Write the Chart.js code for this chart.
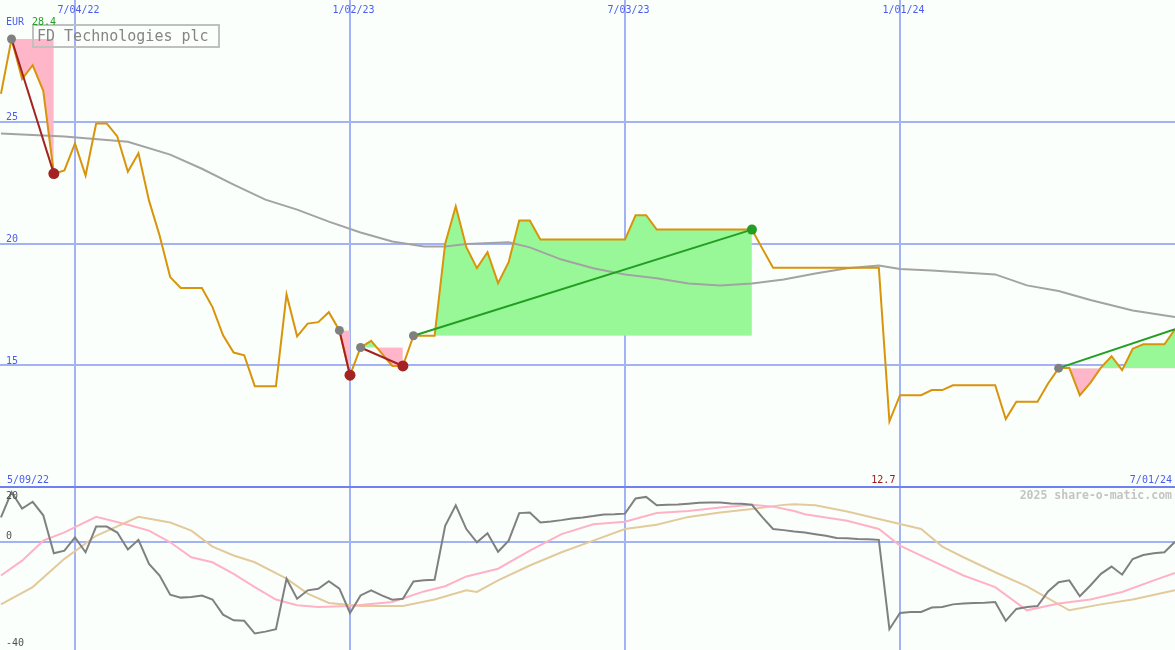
<!DOCTYPE html>
<html><head><meta charset="utf-8">
<script src="https://cdn.jsdelivr.net/npm/chart.js@4"></script>
<style>
html,body{margin:0;padding:0;background:#fbfffb;}
#wrap{position:relative;width:1175px;height:650px;overflow:hidden;background:#fbfffb;}
canvas{position:absolute;left:0;}
.lbl{position:absolute;font-family:"DejaVu Sans Mono",monospace;white-space:nowrap;}
#title{position:absolute;left:32px;top:24px;width:181px;height:17px;padding:3px 0 0 3px;border:2px solid #c0c0c0;
  font-family:"DejaVu Sans Mono",monospace;font-size:15px;line-height:15px;color:#858585;white-space:nowrap;}
</style></head><body>
<div id="wrap">
<canvas id="c1" width="1175" height="487" style="top:0"></canvas>
<canvas id="c2" width="1175" height="162" style="top:488px"></canvas>
<div id="sep" style="position:absolute;left:0;top:486px;width:1175px;height:2px;background:#7080f0"></div>
<div id="title">FD Technologies plc</div>
</div>
<script>
// ---------- data (weekly index 0..111) ----------
const price = [
26.15, 28.4, 26.75, 27.32, 26.27, 22.87, 23.0, 24.11, 22.79, 24.93,
24.93, 24.40, 22.95, 23.71, 21.76, 20.33, 18.62, 18.17, 18.17, 18.17,
17.39, 16.23, 15.52, 15.41, 14.14, 14.14, 14.14, 17.91, 16.19, 16.71,
16.77, 17.18, 16.43, 14.59, 15.73, 16.0, 15.49, 14.97, 14.97, 16.21,
16.21, 16.21, 19.99, 21.53, 19.85, 18.99, 19.64, 18.37, 19.23, 20.94,
20.94, 20.16, 20.16, 20.16, 20.16, 20.16, 20.16, 20.16, 20.16, 20.16,
21.16, 21.16, 20.57, 20.57, 20.57, 20.57, 20.57, 20.57, 20.57, 20.57,
20.57, 20.57, 19.78, 19.0, 19.0, 19.0, 19.0, 19.0, 19.0, 19.0,
19.0, 19.0, 19.0, 19.0, 12.7, 13.77, 13.77, 13.77, 13.98, 13.98,
14.18, 14.18, 14.18, 14.18, 14.18, 12.79, 13.5, 13.5, 13.5, 14.25,
14.88, 14.9, 13.77, 14.28, 14.9, 15.37, 14.8, 15.68, 15.86, 15.86,
15.86, 16.48
];
const maIdx = [0,6,12,16,19,22,25,28,31,34,37,40,42,44,48,50,53,56,59,62,65,68,71,74,77,80,83,85,88,94,97,100,103,107,111];
const maVal = [24.52,24.39,24.18,23.65,23.07,22.42,21.80,21.39,20.90,20.45,20.08,19.88,19.88,19.98,20.05,19.84,19.34,18.98,18.73,18.57,18.36,18.28,18.36,18.52,18.77,18.98,19.10,18.95,18.89,18.73,18.28,18.05,17.68,17.25,16.98];

const osc = [
9.1, 18.5, 12.4, 14.9, 9.9, -4.2, -3.2, 1.7, -3.8, 5.7,
5.7, 3.5, -2.8, 0.8, -8.1, -12.4, -19.5, -20.6, -20.4, -19.8,
-21.3, -26.9, -29.0, -29.2, -33.9, -33.2, -32.3, -13.6, -21.0, -17.9,
-17.3, -14.5, -17.3, -26.3, -19.8, -17.9, -19.8, -21.4, -21.0, -14.6,
-14.2, -14.0, 6.0, 13.6, 4.8, -0.1, 3.2, -3.6, 0.5, 10.7,
10.9, 7.2, 7.6, 8.1, 8.7, 9.1, 9.6, 10.2, 10.3, 10.5,
16.1, 16.7, 13.6, 13.8, 13.9, 14.2, 14.5, 14.6, 14.6, 14.3,
14.2, 13.8, 9.1, 4.8, 4.4, 3.9, 3.5, 2.9, 2.3, 1.5,
1.4, 1.1, 1.0, 0.8, -32.3, -26.3, -25.9, -25.9, -24.3, -24.1,
-23.1, -22.8, -22.6, -22.5, -22.2, -29.2, -24.8, -24.1, -23.7, -18.3,
-14.9, -14.2, -20.1, -16.1, -11.8, -9.1, -12.1, -6.3, -4.8, -4.2,
-3.8, 0.1
];
const pinkIdx = [0,2,4,6,9,12,14,16,18,20,22,24,26,28,30,33,37,40,42,44,47,50,53,56,59,62,65,68,71,73,75,76,80,83,85,88,91,94,97,100,103,106,109,111];
const pinkVal = [-12.4,-6.9,0.5,3.55,9.3,6.4,4.2,-0.1,-5.65,-7.5,-11.8,-16.7,-21.3,-23.4,-24.05,-23.7,-22.2,-18.3,-16.4,-12.75,-9.9,-3.2,2.9,6.6,7.5,10.7,11.5,12.75,13.75,13.1,11.5,10.3,7.85,4.8,-1.35,-6.9,-12.4,-16.7,-25.3,-22.8,-21.3,-18.5,-14.2,-11.5];
const tanIdx = [0,3,6,9,13,16,18,20,22,24,27,29,31,34,38,41,44,45,47,50,53,56,59,62,65,68,71,74,75,77,80,83,87,89,91,94,97,101,104,107,111];
const tanVal = [-23.1,-16.7,-6.25,2.3,9.3,7.2,4.2,-1.7,-5.0,-7.5,-13.6,-19.1,-22.6,-23.7,-23.7,-21.3,-17.9,-18.5,-14.2,-8.7,-3.8,0.5,4.8,6.4,9.3,10.9,12.2,13.75,14.0,13.6,11.3,8.5,4.8,-1.7,-5.65,-11.2,-16.4,-25.3,-23.1,-21.3,-17.9];

const tradeEntry = [1, 32, 34, 39, 100];
const tradeExit  = [5, 33, 38, 71, 111];
const tradeOpen  = [false, false, false, false, true];

const xTickIdx = [7, 33, 59, 85];
const xTickLabels = ['7/04/22', '1/02/23', '7/03/23', '1/01/24'];
const priceTicks = [15, 20, 25];
const oscTicks = [20, 0, -40];
const startLabel = '5/09/22';
const endLabel = '7/01/24';
const currency = 'EUR';
const watermark = '2025 share-o-matic.com';

// ---------- styles ----------
const W = 1175;
const GRID = '#a3b1f5';
const BLUE = '#4a5cf0';
const PRICE_C = '#d8940a';
const MA_C = '#a3a3a3';
const FILL_G = '#98f898';
const FILL_P = '#ffb6c8';
const LOSS_C = '#a52222';
const GAIN_C = '#229e22';
const ENTRY_C = '#808080';

const pts = (vals, idx) => vals.map((v, k) => ({x: idx ? idx[k] : k, y: v}));

// ---------- main chart ----------
const ds = [];
ds.push({data: pts(price), borderColor: PRICE_C, borderWidth: 2, pointRadius: 0, order: 2});
ds.push({data: pts(maVal, maIdx), borderColor: MA_C, borderWidth: 2, pointRadius: 0, order: 3});
const dotData = [], dotColor = [], dotRad = [];
tradeEntry.forEach((e, t) => {
  const x = tradeExit[t];
  const gain = price[x] >= price[e];
  ds.push({
    data: price.slice(e, x + 1).map((v, k) => ({x: e + k, y: v})),
    borderColor: 'transparent', borderWidth: 0, pointRadius: 0, order: 10,
    fill: {target: {value: price[e]}, above: FILL_G, below: FILL_P}
  });
  ds.push({
    data: [{x: e, y: price[e]}, {x: x, y: price[x]}],
    borderColor: gain ? GAIN_C : LOSS_C, borderWidth: 2, pointRadius: 0, order: 1
  });
  dotData.push({x: e, y: price[e]}); dotColor.push(ENTRY_C); dotRad.push(4.5);
  if (!tradeOpen[t]) {
    dotData.push({x: x, y: price[x]}); dotColor.push(gain ? GAIN_C : LOSS_C); dotRad.push(gain ? 5 : 5.5);
  }
});
ds.push({data: dotData, showLine: false, pointRadius: dotRad, pointBackgroundColor: dotColor,
  pointBorderWidth: 0, pointBorderColor: 'transparent', order: 0});

function axisX() {
  return {type: 'linear', min: -0.09, max: 111.0,
    ticks: {display: false}, border: {display: false},
    grid: {color: GRID, lineWidth: 2, drawTicks: false},
    afterBuildTicks: s => { s.ticks = xTickIdx.map(v => ({value: v})); }};
}
function baseOpts(ymin, ymax, yt) {
  return {
    responsive: false, animation: false, devicePixelRatio: 1,
    layout: {padding: 0, autoPadding: false},
    plugins: {legend: {display: false}, tooltip: {enabled: false}},
    elements: {line: {tension: 0}},
    scales: {
      x: axisX(),
      y: {type: 'linear', min: ymin, max: ymax,
        ticks: {display: false}, border: {display: false},
        grid: {color: GRID, lineWidth: 2, drawTicks: false},
        afterBuildTicks: s => { s.ticks = yt.map(v => ({value: v})); }}
    }
  };
}
const c1 = new Chart(document.getElementById('c1'), {
  type: 'line', data: {datasets: ds}, options: baseOpts(10, 30, priceTicks)
});

// ---------- lower chart ----------
const c2 = new Chart(document.getElementById('c2'), {
  type: 'line',
  data: {datasets: [
    {data: pts(osc), borderColor: '#808080', borderWidth: 2, pointRadius: 0, order: 1},
    {data: pts(pinkVal, pinkIdx), borderColor: '#ffb2c6', borderWidth: 2, pointRadius: 0, order: 2},
    {data: pts(tanVal, tanIdx), borderColor: '#e3ca9c', borderWidth: 2, pointRadius: 0, order: 3}
  ]},
  options: baseOpts(-40, 20, [0])
});

// ---------- text ----------
const wrap = document.getElementById('wrap');
function addLabel(text, x, baseline, align, color, size, bold) {
  const d = document.createElement('div');
  d.className = 'lbl'; d.textContent = text;
  d.style.fontSize = size + 'px'; d.style.lineHeight = size + 'px';
  d.style.color = color; if (bold) d.style.fontWeight = 'bold';
  d.style.top = (baseline - 0.846 * size) + 'px';
  if (align === 'left') d.style.left = x + 'px';
  else if (align === 'right') d.style.right = (W - x) + 'px';
  else { d.style.left = x + 'px'; d.style.transform = 'translateX(-50%)'; }
  wrap.appendChild(d);
}
xTickIdx.forEach((v, k) => addLabel(xTickLabels[k], c1.scales.x.getPixelForValue(v) + 3.5, 13, 'center', BLUE, 10));
priceTicks.forEach(v => addLabel(String(v), 6, c1.scales.y.getPixelForValue(v) - 1, 'left', BLUE, 10));
const top2 = 488, bot2 = 650;
oscTicks.forEach(v => {
  const pix = top2 + c2.scales.y.getPixelForValue(v);
  const b = Math.min(Math.max(pix - 3, top2 + 11), bot2 - 4);
  addLabel(String(v), 6, b, 'left', '#505050', 10);
});
const maxV = Math.max(...price), minV = Math.min(...price);
const minI = price.indexOf(minV);
addLabel(currency, 6, 25, 'left', BLUE, 10);
addLabel(maxV.toFixed(1), 32, 25, 'left', '#22a022', 10);
addLabel(startLabel, 7, 483, 'left', BLUE, 10);
addLabel(minV.toFixed(1), c1.scales.x.getPixelForValue(minI) + 6, 483, 'right', '#a01818', 10);
addLabel(endLabel, 1172, 483, 'right', BLUE, 10);
addLabel(watermark, 1172, 500, 'right', '#c4c4c4', 11.5, true);
</script>
</body></html>
